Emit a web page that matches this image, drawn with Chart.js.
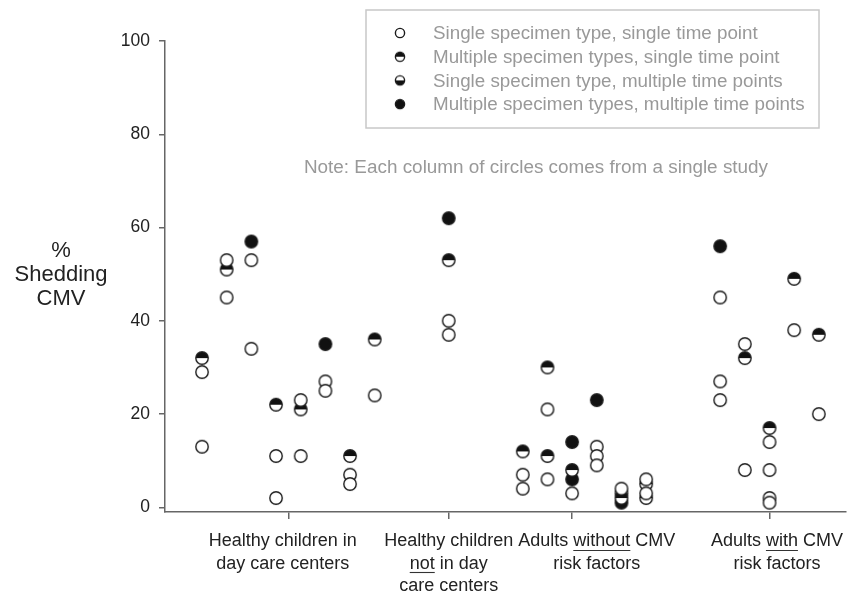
<!DOCTYPE html>
<html>
<head>
<meta charset="utf-8">
<script src="https://cdn.jsdelivr.net/npm/chart.js@4.4.1/dist/chart.umd.min.js"></script>
<style>
  html, body { margin: 0; padding: 0; background: #fff; }
  #wrap { width: 853px; height: 596px; }
</style>
</head>
<body>
<div id="wrap"><canvas id="cmvChart" width="853" height="596"></canvas></div>
<script>
// Each column of circles is one study, placed on a "study slot" axis
const groupLabels = [
    ['Healthy children in', 'day care centers'],
    ['Healthy children', 'not in day', 'care centers'],
    ['Adults without CMV', 'risk factors'],
    ['Adults with CMV', 'risk factors']
];
const groupTickSlots = [4.5, 11, 16, 24];      // tick marks on the axis
const groupLabelSlots = [4.27, 11, 17, 24.3];  // label centres (not centred on ticks in the original)
const yTicks = [0, 20, 40, 60, 80, 100];
const yTitle = ['%', 'Shedding', 'CMV'];
const noteText = 'Note: Each column of circles comes from a single study';

const seriesNames = [
    'Single specimen type, single time point',
    'Multiple specimen types, single time point',
    'Single specimen type, multiple time points',
    'Multiple specimen types, multiple time points'
];

// [study slot, % shedding]
const singleSingle = [
    [1, 29], [1, 13], [2, 53], [2, 45], [3, 53], [3, 34], [4, 11], [4, 2],
    [5, 23], [5, 11], [6, 27], [6, 25], [7, 7], [7, 5], [8, 24],
    [11, 40], [11, 37],
    [14, 7], [14, 4], [15, 21], [15, 6], [16, 3], [17, 13], [17, 11], [17, 9],
    [18, 4], [19, 6], [19, 3],
    [22, 45], [22, 27], [22, 23], [23, 35], [23, 8], [24, 14], [24, 8], [24, 2], [24, 1],
    [25, 38], [26, 20]
];
const multiSingle = [
    [1, 32], [2, 51], [4, 22], [5, 21], [7, 11], [8, 36],
    [11, 53],
    [14, 12], [15, 30], [15, 11], [16, 8], [18, 2], [19, 5], [19, 2],
    [23, 32], [24, 17], [25, 49], [26, 37]
];
const singleMulti = [
    [18, 3]
];
const multiMulti = [
    [3, 57], [6, 35],
    [11, 62],
    [16, 14], [16, 6], [17, 23], [18, 1],
    [22, 56]
];

// underlined words in the category labels: [group, line, text before, word]
const underlined = [[1, 1, '', 'not'], [2, 0, 'Adults ', 'without'], [3, 0, 'Adults ', 'with']];

const FONT = '"Liberation Sans", Arial, sans-serif';

function makeMarker(kind, r) {
    const size = 2 * Math.ceil(r + 2);
    const c = document.createElement('canvas');
    c.width = size;
    c.height = size;
    const g = c.getContext('2d');
    const m = size / 2;
    g.beginPath();
    g.arc(m, m, r, 0, Math.PI * 2);
    g.fillStyle = '#fff';
    g.fill();
    g.fillStyle = '#111';
    if (kind === 'full') {
        g.beginPath();
        g.arc(m, m, r, 0, Math.PI * 2);
        g.fill();
    } else if (kind === 'top') {
        g.beginPath();
        g.arc(m, m, r, Math.PI, Math.PI * 2);
        g.closePath();
        g.fill();
    } else if (kind === 'bottom') {
        g.beginPath();
        g.arc(m, m, r, 0, Math.PI);
        g.closePath();
        g.fill();
    }
    g.beginPath();
    g.arc(m, m, r, 0, Math.PI * 2);
    g.strokeStyle = '#1a1a1a';
    g.lineWidth = 1.4;
    g.stroke();
    return c;
}

const kinds = ['open', 'top', 'bottom', 'full'];
const seriesData = [singleSingle, multiSingle, singleMulti, multiMulti];
const plotMarkers = kinds.map(k => makeMarker(k, 6.2));
const legendMarkers = kinds.map(k => makeMarker(k, 4.6));

// legend box, note, horizontal y title and underlines
const annotate = {
    id: 'annotate',
    afterDraw(chart) {
        const ctx = chart.ctx;
        ctx.save();

        ctx.fillStyle = '#222';
        ctx.font = '22px ' + FONT;
        ctx.textAlign = 'center';
        ctx.textBaseline = 'middle';
        yTitle.forEach((t, i) => ctx.fillText(t, 61, 251 + i * 24));

        ctx.fillStyle = '#999';
        ctx.font = '18.9px ' + FONT;
        ctx.fillText(noteText, 536, 168);

        ctx.strokeStyle = '#c8c8c8';
        ctx.lineWidth = 1.5;
        ctx.strokeRect(366, 10, 453, 118);
        ctx.textAlign = 'left';
        ctx.font = '18.8px ' + FONT;
        chart.data.datasets.forEach((ds, i) => {
            const y = 33 + i * 23.7;
            const mk = legendMarkers[i];
            ctx.drawImage(mk, 400 - mk.width / 2, y - mk.height / 2);
            ctx.fillStyle = '#999';
            ctx.fillText(ds.label, 433, y + 1);
        });

        const xs = chart.scales.xLabels;
        const tf = xs.options.ticks.font;
        ctx.font = tf.size + 'px ' + FONT;
        ctx.strokeStyle = '#333';
        ctx.lineWidth = 1.1;
        const lh = tf.size * tf.lineHeight;
        underlined.forEach(([gi, li, before, word]) => {
            const cx = xs.getPixelForValue(groupLabelSlots[gi]);
            const full = ctx.measureText(groupLabels[gi][li]).width;
            const x0 = cx - full / 2 + ctx.measureText(before).width;
            const w = ctx.measureText(word).width;
            const y = Math.round(xs.top + xs.options.ticks.padding + lh * (li + 0.5) + tf.size * 0.48) + 0.5;
            ctx.beginPath();
            ctx.moveTo(x0, y);
            ctx.lineTo(x0 + w, y);
            ctx.stroke();
        });
        ctx.restore();
    }
};

// keep the plot area fixed: labels may run past the ends without shrinking it
function noSidePadding(s) {
    s.paddingLeft = 0;
    s.paddingRight = 0;
}

const ctx = document.getElementById('cmvChart').getContext('2d');
new Chart(ctx, {
    type: 'scatter',
    data: {
        datasets: seriesData.map((arr, i) => ({
            label: seriesNames[i],
            data: arr.map(p => ({ x: p[0], y: p[1] })),
            pointStyle: plotMarkers[i],
            pointRadius: 6,
            pointHoverRadius: 6
        }))
    },
    options: {
        responsive: false,
        animation: false,
        devicePixelRatio: 1,
        layout: { padding: { top: 41, right: 0, left: 0, bottom: 0 } },
        plugins: {
            legend: { display: false },
            tooltip: { enabled: false }
        },
        scales: {
            x: {
                type: 'linear',
                position: 'bottom',
                weight: 0,
                min: -0.5,
                max: 27.1,
                afterBuildTicks: s => { s.ticks = groupTickSlots.map(v => ({ value: v })); },
                afterFit: s => { s.height = 7; noSidePadding(s); },
                ticks: { display: false },
                grid: { drawOnChartArea: false, drawTicks: true, tickLength: 7, color: '#666', lineWidth: 1.5 },
                border: { color: '#666', width: 1.5 }
            },
            xLabels: {
                type: 'linear',
                position: 'bottom',
                axis: 'x',
                weight: 1,
                min: -0.5,
                max: 27.1,
                afterBuildTicks: s => { s.ticks = groupLabelSlots.map(v => ({ value: v })); },
                afterFit: s => { s.height = 77; noSidePadding(s); },
                ticks: {
                    autoSkip: false,
                    maxRotation: 0,
                    padding: 11,
                    color: '#222',
                    font: { family: FONT, size: 18, lineHeight: 1.25 },
                    callback: (v, i) => groupLabels[i]
                },
                grid: { display: false, drawTicks: false },
                border: { display: false }
            },
            y: {
                min: -1,
                max: 100,
                afterBuildTicks: s => { s.ticks = yTicks.map(v => ({ value: v })); },
                afterFit: s => { s.width = 165; },
                ticks: {
                    padding: 9,
                    color: '#222',
                    font: { family: FONT, size: 17.5 }
                },
                grid: { drawOnChartArea: false, drawTicks: true, tickLength: 6, color: '#666', lineWidth: 1.5 },
                border: { color: '#666', width: 1.5 }
            }
        }
    },
    plugins: [annotate]
});
</script>
</body>
</html>
